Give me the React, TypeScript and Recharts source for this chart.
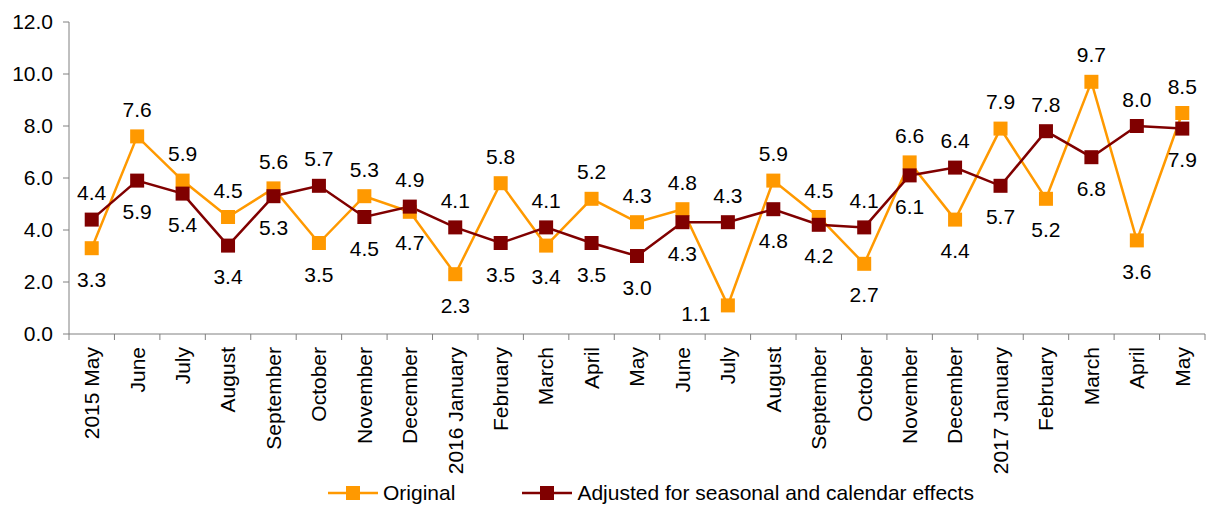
import React from 'react'
import { LineChart, Line, XAxis, YAxis, Legend } from 'recharts'

const months = [
  '2015 May', 'June', 'July', 'August', 'September', 'October', 'November', 'December',
  '2016 January', 'February', 'March', 'April', 'May', 'June', 'July', 'August',
  'September', 'October', 'November', 'December', '2017 January', 'February', 'March',
  'April', 'May',
]
const original = [
  3.3, 7.6, 5.9, 4.5, 5.6, 3.5, 5.3, 4.7, 2.3, 5.8, 3.4, 5.2, 4.3, 4.8, 1.1, 5.9, 4.5,
  2.7, 6.6, 4.4, 7.9, 5.2, 9.7, 3.6, 8.5,
]
const adjusted = [
  4.4, 5.9, 5.4, 3.4, 5.3, 5.7, 4.5, 4.9, 4.1, 3.5, 4.1, 3.5, 3.0, 4.3, 4.3, 4.8, 4.2,
  4.1, 6.1, 6.4, 5.7, 7.8, 6.8, 8.0, 7.9,
]
const yTicks = [0, 2, 4, 6, 8, 10, 12]

const data = months.map((m, i) => ({ m, original: original[i], adjusted: adjusted[i] }))

const W = 1215
const H = 505
const LEFT = 69
const RIGHT = 10
const TOP = 22
const X_AXIS_H = 145
const LEGEND_H = 26
const PLOT_BOTTOM = H - X_AXIS_H - LEGEND_H
const BAND = (W - LEFT - RIGHT) / months.length
const FONT = '"Liberation Sans", Arial, sans-serif'
const FS = 21
const ORANGE = '#FF9900'
const DARK = '#800000'
const AXIS = '#808080'

const CategoryTick = (props: any) => {
  const { x, y, payload, index } = props
  const half = BAND / 2
  return (
    <g>
      <line x1={x - half} x2={x - half} y1={y} y2={y + 6} stroke={AXIS} strokeWidth={1} />
      {index === months.length - 1 && (
        <line x1={x + half} x2={x + half} y1={y} y2={y + 6} stroke={AXIS} strokeWidth={1} />
      )}
      <text
        transform={`translate(${x},${y + 13}) rotate(-90)`}
        textAnchor="end"
        dy="0.35em"
        fontSize={FS}
        fontFamily={FONT}
        fill="#000"
      >
        {payload.value}
      </text>
    </g>
  )
}

const squareDot = (color: string) => (props: any) => {
  const { cx, cy, index } = props
  if (cx == null || cy == null) return <g key={index} />
  return <rect key={index} x={cx - 7} y={cy - 7} width={14} height={14} fill={color} />
}

// larger value of the pair is labelled above its marker, smaller below;
// a label that would run into the axis is moved to the left of the marker
const valueLabel = (own: number[], other: number[]) => (props: any) => {
  const { x, y, index } = props
  const above = own[index] >= other[index]
  let lx = x
  let ly = above ? y - 27 : y + 31
  if (!above && ly + 12 > PLOT_BOTTOM) {
    lx = x - 32
    ly = y + 8
  }
  return (
    <text
      key={index}
      x={lx}
      y={ly}
      textAnchor="middle"
      dominantBaseline="central"
      fontSize={FS}
      fontFamily={FONT}
      fill="#000"
    >
      {own[index].toFixed(1)}
    </text>
  )
}

const LegendContent = () => {
  const item = (color: string, label: string, gap: number) => (
    <div style={{ display: 'flex', alignItems: 'center', marginRight: gap }}>
      <svg width={50} height={16}>
        <line x1={0} x2={50} y1={8} y2={8} stroke={color} strokeWidth={2.5} />
        <rect x={18} y={1} width={14} height={14} fill={color} />
      </svg>
      <span style={{ marginLeft: 5 }}>{label}</span>
    </div>
  )
  return (
    <div
      style={{
        display: 'flex',
        height: LEGEND_H,
        alignItems: 'center',
        fontFamily: FONT,
        fontSize: FS,
        color: '#000',
        whiteSpace: 'nowrap',
      }}
    >
      {item(ORANGE, 'Original', 67)}
      {item(DARK, 'Adjusted for seasonal and calendar effects', 0)}
    </div>
  )
}

export default function App() {
  return (
    <div style={{ position: 'absolute', left: 0, top: 0, background: '#fff' }}>
      <LineChart
        width={W}
        height={H}
        data={data}
        margin={{ top: TOP, right: RIGHT, left: 0, bottom: 0 }}
      >
        <XAxis
          dataKey="m"
          interval={0}
          height={X_AXIS_H}
          padding={{ left: BAND / 2, right: BAND / 2 }}
          tickSize={0}
          tickMargin={0}
          tickLine={false}
          axisLine={{ stroke: AXIS }}
          tick={<CategoryTick />}
        />
        <YAxis
          width={LEFT}
          domain={[0, 12]}
          ticks={yTicks}
          interval={0}
          tickFormatter={(v: number) => v.toFixed(1)}
          tickSize={6}
          tickMargin={10}
          axisLine={{ stroke: AXIS }}
          tickLine={{ stroke: AXIS }}
          tick={{ fontSize: FS, fontFamily: FONT, fill: '#000' }}
        />
        <Legend
          verticalAlign="bottom"
          content={<LegendContent />}
          wrapperStyle={{ top: 480, left: 328, width: 750, height: LEGEND_H }}
        />
        <Line
          dataKey="original"
          stroke={ORANGE}
          strokeWidth={2.5}
          dot={squareDot(ORANGE)}
          activeDot={false}
          label={valueLabel(original, adjusted)}
          isAnimationActive={false}
        />
        <Line
          dataKey="adjusted"
          stroke={DARK}
          strokeWidth={2.5}
          dot={squareDot(DARK)}
          activeDot={false}
          label={valueLabel(adjusted, original)}
          isAnimationActive={false}
        />
      </LineChart>
    </div>
  )
}
